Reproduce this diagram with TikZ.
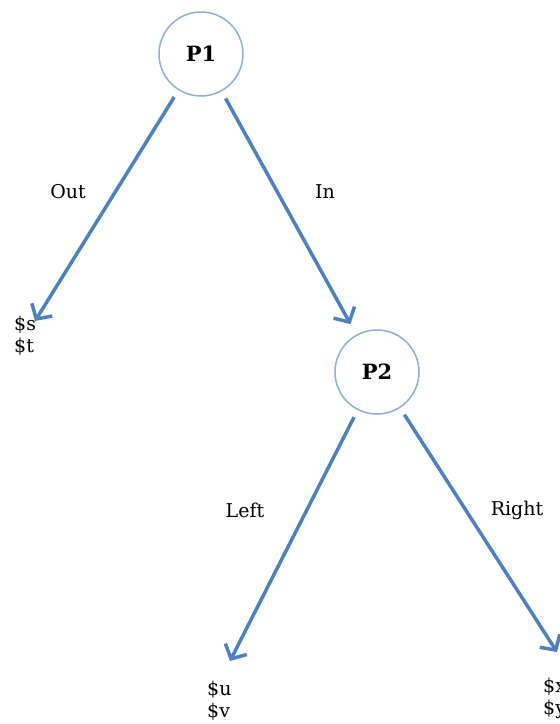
\documentclass[tikz,border=0pt]{standalone}
\usepackage{fontspec}
\setmainfont{DejaVu Serif}
\usetikzlibrary{arrows.meta}
\definecolor{arrblue}{HTML}{4F81BD}
\definecolor{ringblue}{HTML}{8EAEDB}
\tikzset{
  pnode/.style={circle, draw=ringblue, line width=1.5pt, fill=white, minimum size=84pt, inner sep=0pt, font=\fontsize{21}{24}\selectfont\bfseries},
  lbl/.style={font=\fontsize{19}{21}\selectfont, inner sep=0pt},
  leaf/.style={font=\fontsize{19}{22}\selectfont, inner sep=0pt, align=left, anchor=north west},
  arr/.style={draw=arrblue, line width=3.5pt, -{Straight Barb[length=11pt,width=24pt]}, shorten <=8pt}
}
\begin{document}
\begin{tikzpicture}[x=1pt,y=-1pt]
\clip (0,0) rectangle (560,724);
\fill[white] (0,0) rectangle (560,724);
\node[pnode] (p1) at (201,54) {P1};
\node[pnode] (p2) at (377,372) {P2};
\node[leaf] (s) at (14,316) {\$s\\\$t};
\node[leaf] (u) at (207,681) {\$u\\\$v};
\node[leaf] (x) at (543,678) {\$x\\\$y};
\coordinate (stip) at (35,321);
\coordinate (utip) at (230,661);
\coordinate (xtip) at (557,652);
\draw[arr] (p1) -- (stip);
\draw[arr, shorten >=12pt] (p1) -- (p2);
\draw[arr] (p2) -- (utip);
\draw[arr] (p2) -- (xtip);
\node[lbl] (out) at (68,192) {Out};
\node[lbl] (in) at (325,192) {In};
\node[lbl] (left) at (245,510) {Left};
\node[lbl] (right) at (517,510) {Right};
\end{tikzpicture}
\end{document}
